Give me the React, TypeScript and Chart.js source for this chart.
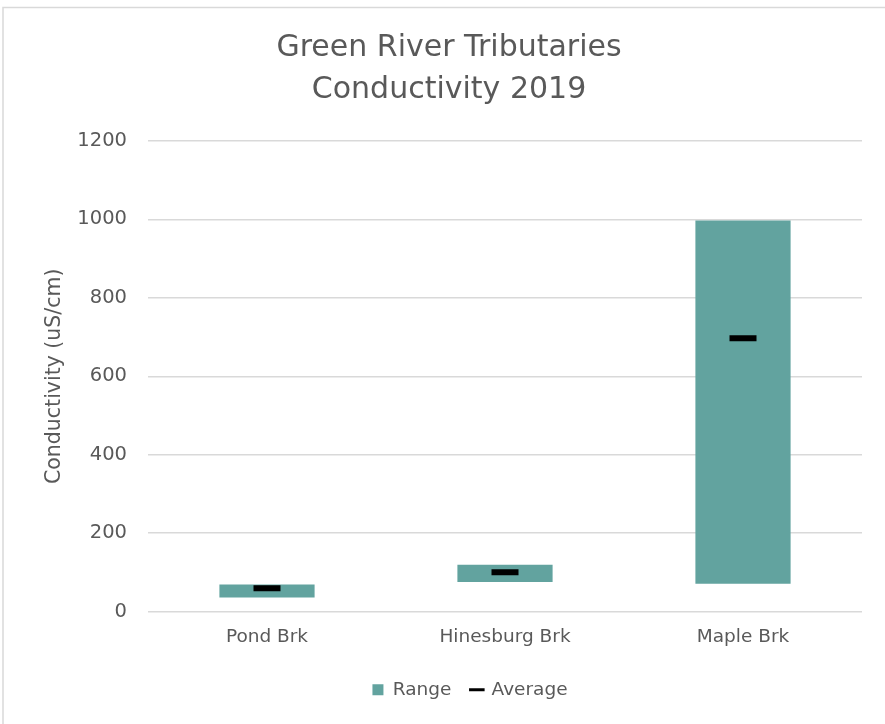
import React, { useEffect, useRef } from "react";
import { Chart, registerables } from "chart.js";

Chart.register(...registerables);

const categories = ["Pond Brk", "Hinesburg Brk", "Maple Brk"];
const rangeLow = [36, 75, 71];
const rangeHigh = [69, 119, 997];
const averages = [59, 100, 697];
const yTicks = [0, 200, 400, 600, 800, 1000, 1200];

const FONT = "'DejaVu Sans', sans-serif";
const GRAY = "#595959";
const GRID = "#d9d9d9";
const TEAL = "#62a39f";

const borderPlugin = {
  id: "outerBorder",
  beforeDraw(chart: any) {
    const ctx = chart.ctx;
    ctx.save();
    ctx.fillStyle = "#ffffff";
    ctx.fillRect(0, 0, chart.width, chart.height);
    ctx.strokeStyle = GRID;
    ctx.lineWidth = 1.5;
    ctx.strokeRect(3, 7.5, chart.width + 10, chart.height + 10);
    ctx.restore();
  },
  afterLayout(chart: any) {
    const t = chart.titleBlock;
    if (t) {
      t.left = 0;
      t.right = 898;
      t.width = 898;
    }
    const l = chart.legend;
    if (l) {
      l.left = 0;
      l.right = 940;
      l.width = 940;
    }
  },
};

export default function App() {
  const ref = useRef<HTMLCanvasElement>(null);
  useEffect(() => {
    document.body.style.margin = "0";
    const canvas = ref.current!;
    const chart = new Chart(canvas, {
      type: "bar",
      data: {
        labels: categories,
        datasets: [
          {
            type: "bar",
            label: "Range",
            data: categories.map((_, i) => [rangeLow[i], rangeHigh[i]]),
            backgroundColor: TEAL,
            borderWidth: 0,
            barPercentage: 1,
            categoryPercentage: 0.4,
            pointStyle: "rect",
            order: 2,
          } as any,
          {
            type: "line",
            label: "Average",
            data: averages,
            showLine: false,
            pointStyle: "line",
            pointRadius: 13.5,
            pointHoverRadius: 13.5,
            pointBorderWidth: 6,
            borderWidth: 6,
            borderColor: "#000000",
            backgroundColor: "#000000",
            order: 1,
          } as any,
        ],
      },
      options: {
        responsive: false,
        animation: false,
        layout: { padding: { top: 0, left: 0, right: 23, bottom: 15 } },
        plugins: {
          title: {
            display: true,
            text: ["Green River Tributaries", "Conductivity 2019"],
            color: GRAY,
            font: { family: FONT, size: 30, weight: "normal", lineHeight: 1.4 },
            padding: { top: 27, bottom: 30 },
          },
          legend: {
            position: "bottom",
            labels: {
              usePointStyle: true,
              boxWidth: 11,
              boxHeight: 11,
              color: GRAY,
              font: { family: FONT, size: 18.5 },
              padding: 20,
              sort: (a: any, b: any) => a.datasetIndex - b.datasetIndex,
              generateLabels(chart: any) {
                const items = Chart.defaults.plugins.legend.labels.generateLabels(chart);
                return items.map((it: any) => {
                  if (it.text === "Average") {
                    it.lineWidth = 3;
                    it.strokeStyle = "#000000";
                  } else {
                    it.lineWidth = 0;
                    it.fillStyle = TEAL;
                  }
                  return it;
                });
              },
            },
          },
          tooltip: { enabled: false },
        },
        scales: {
          x: {
            grid: { display: false, drawTicks: false },
            border: { display: false },
            ticks: { color: GRAY, font: { family: FONT, size: 18.5 }, padding: 15 },
            afterFit(s: any) {
              s.height = 49;
            },
          },
          y: {
            min: 0,
            max: 1200,
            afterBuildTicks(s: any) {
              s.ticks = yTicks.map((v) => ({ value: v }));
            },
            grid: { color: GRID, lineWidth: 1.5, drawTicks: false },
            border: { display: false },
            ticks: {
              color: GRAY,
              font: { family: FONT, size: 19.5 },
              padding: 21,
              callback: (v: any) => String(v),
            },
            title: {
              display: true,
              text: "Conductivity (uS/cm)",
              color: GRAY,
              font: { family: FONT, size: 20.5 },
              padding: { top: 42, bottom: 0 },
            },
            afterFit(s: any) {
              s.width = 148;
            },
          },
        },
      },
      plugins: [borderPlugin],
    });
    return () => chart.destroy();
  }, []);
  return (
    <div style={{ width: 885, height: 724 }}>
      <canvas ref={ref} width={885} height={724} style={{ display: "block" }} />
    </div>
  );
}
